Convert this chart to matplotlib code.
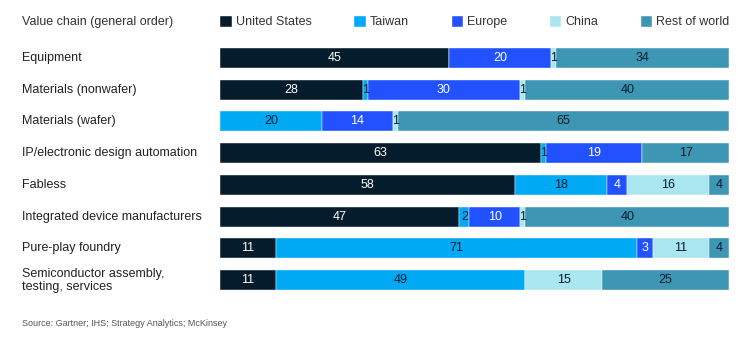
import numpy as np
import matplotlib.pyplot as plt
import matplotlib.transforms as mtransforms

plt.rcParams['font.family'] = ['Liberation Sans', 'DejaVu Sans']

# 价值链环节
stages = ['Equipment', 'Materials (nonwafer)', 'Materials (wafer)',
          'IP/electronic design automation', 'Fabless',
          'Integrated device manufacturers', 'Pure-play foundry',
          'Semiconductor assembly,\ntesting, services']
regions = ['United States', 'Taiwan', 'Europe', 'China', 'Rest of world']

# 各地区份额 (%)
us = [45, 28, 0, 63, 58, 47, 11, 11]
taiwan = [0, 1, 20, 1, 18, 2, 71, 49]
europe = [20, 30, 14, 19, 4, 10, 3, 0]
china = [1, 1, 1, 0, 16, 1, 11, 15]
rest = [34, 40, 65, 17, 4, 40, 4, 25]

colors = ['#051c2c', '#00a9f4', '#2251ff', '#aae6f0', '#3c96b4']
text_colors = ['white', '#051c2c', 'white', '#051c2c', '#051c2c']
fs = 9

fig = plt.figure(figsize=(7.49, 3.39), dpi=100)
ax = fig.add_axes([220 / 749, 1 - 296 / 339, 509 / 749, 254 / 339])

y = np.arange(len(stages))
left = np.zeros(len(stages))
handles = []
for vals, c, tc, name in zip([us, taiwan, europe, china, rest], colors, text_colors, regions):
    vals = np.array(vals, dtype=float)
    bars = ax.barh(y, vals, left=left, height=0.63, color=c, edgecolor='white',
                   linewidth=0.3, label=name)
    handles.append(bars)
    for yi, v, l in zip(y, vals, left):
        if v > 0:
            ax.text(l + v / 2, yi, f'{int(v)}', ha='center', va='center',
                    color=tc, fontsize=fs)
    left += vals

ax.set_xlim(0, 100)
ax.set_ylim(len(stages) - 0.5, -0.5)
ax.axis('off')

# 左侧类别标签
trans = mtransforms.blended_transform_factory(fig.transFigure, ax.transData)
for yi, s in zip(y, stages):
    fig.text(22 / 749, yi, s, transform=trans, ha='left', va='center',
             color='#222222', fontsize=fs, linespacing=1.1)

fig.text(22 / 749, 1 - 22 / 339, 'Value chain (general order)', ha='left', va='center',
         color='#333333', fontsize=fs)

leg = fig.legend(handles=handles, labels=regions, ncol=5, loc='center left',
                 bbox_to_anchor=(209 / 749, 1 - 22 / 339), frameon=False,
                 handlelength=0.9, handleheight=1.0, handletextpad=0.35,
                 columnspacing=3.4, fontsize=fs)
for t in leg.get_texts():
    t.set_color('#333333')

fig.text(22 / 749, 1 - 323 / 339, 'Source: Gartner; IHS; Strategy Analytics; McKinsey',
         ha='left', va='center', color='#555555', fontsize=6.5)

fig.savefig('out.png', dpi=100)
